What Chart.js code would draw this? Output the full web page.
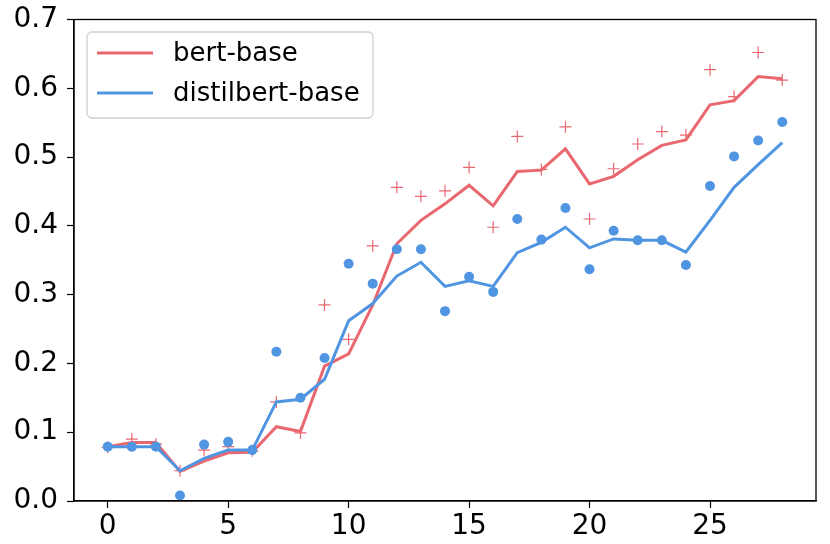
<!DOCTYPE html>
<html>
<head>
<meta charset="utf-8">
<script src="https://cdn.jsdelivr.net/npm/chart.js@4"></script>
<style>
  html, body { margin: 0; padding: 0; background: #fff; }
  #wrap { width: 830px; height: 544px; }
</style>
</head>
<body>
<div id="wrap"><canvas id="myChart"></canvas></div>
<script>
// Data
const steps = [0,1,2,3,4,5,6,7,8,9,10,11,12,13,14,15,16,17,18,19,20,21,22,23,24,25,26,27,28];
const bertPoints = [0.078,0.090,0.083,0.044,0.074,0.079,0.073,0.144,0.099,0.285,0.235,0.371,0.456,0.443,0.451,0.485,0.398,0.530,0.482,0.544,0.410,0.483,0.519,0.537,0.532,0.627,0.588,0.652,0.612];
const bertSmooth = [0.079,0.085,0.085,0.043,0.058,0.070,0.071,0.108,0.101,0.196,0.214,0.285,0.374,0.408,0.432,0.459,0.429,0.479,0.481,0.512,0.461,0.472,0.496,0.517,0.525,0.576,0.582,0.617,0.614];
const distilPoints = [0.079,0.079,0.079,0.008,0.082,0.086,0.074,0.217,0.150,0.208,0.345,0.316,0.366,0.366,0.276,0.326,0.304,0.410,0.380,0.426,0.337,0.393,0.379,0.379,0.343,0.458,0.501,0.524,0.551];
const distilSmooth = [0.079,0.079,0.079,0.044,0.062,0.074,0.074,0.144,0.148,0.177,0.262,0.287,0.327,0.347,0.312,0.320,0.312,0.361,0.376,0.398,0.368,0.381,0.379,0.379,0.362,0.408,0.456,0.489,0.521];
const xTicks = [0, 5, 10, 15, 20, 25];
const seriesNames = ['bert-base', 'distilbert-base'];

const RED = '#e9686f';
const BLUE = '#5095e1';

const xy = (ys) => steps.map((x, i) => ({ x: x, y: ys[i] }));

// legend box + frame drawn by hand
const framePlugin = {
  id: 'frame',
  afterDraw(chart) {
    const { ctx, chartArea: a } = chart;
    ctx.save();
    ctx.strokeStyle = '#000';
    ctx.lineWidth = 1.3;
    ctx.strokeRect(a.left, a.top, a.right - a.left, a.bottom - a.top);

    // legend
    const bx = 87, by = 32, bw = 286, bh = 86, r = 5;
    ctx.beginPath();
    ctx.roundRect(bx, by, bw, bh, r);
    ctx.fillStyle = 'rgba(255,255,255,0.8)';
    ctx.fill();
    ctx.strokeStyle = '#d0d0d0';
    ctx.lineWidth = 1.3;
    ctx.stroke();
    const cols = [RED, BLUE];
    const rows = [53, 93];
    ctx.font = '26px "DejaVu Sans"';
    ctx.textBaseline = 'middle';
    seriesNames.forEach((name, i) => {
      ctx.beginPath();
      ctx.strokeStyle = cols[i];
      ctx.lineWidth = 3;
      ctx.moveTo(97, rows[i]);
      ctx.lineTo(153, rows[i]);
      ctx.stroke();
      ctx.fillStyle = '#000';
      ctx.fillText(name, 173, rows[i] + 1);
    });
    ctx.restore();
  }
};

const config = {
  type: 'scatter',
  data: {
    datasets: [
      {
        label: seriesNames[1] + ' points',
        data: xy(distilPoints),
        backgroundColor: BLUE,
        borderColor: BLUE,
        pointRadius: 5,
        borderWidth: 0,
        order: 1
      },
      {
        label: seriesNames[1],
        data: xy(distilSmooth),
        showLine: true,
        borderColor: BLUE,
        borderWidth: 3,
        pointRadius: 0,
        order: 2
      },
      {
        label: seriesNames[0] + ' points',
        data: xy(bertPoints),
        pointStyle: 'cross',
        borderColor: RED,
        pointRadius: 6,
        pointBorderWidth: 1.2,
        order: 3
      },
      {
        label: seriesNames[0],
        data: xy(bertSmooth),
        showLine: true,
        borderColor: RED,
        borderWidth: 3,
        pointRadius: 0,
        order: 4
      }
    ]
  },
  options: {
    responsive: true,
    maintainAspectRatio: false,
    animation: false,
    layout: { padding: { top: 19.5, right: 14, left: 0, bottom: 0 } },
    plugins: {
      legend: { display: false },
      tooltip: { enabled: false }
    },
    scales: {
      x: {
        type: 'linear',
        min: -1.4,
        max: 29.4,
        afterBuildTicks: (axis) => { axis.ticks = xTicks.map(v => ({ value: v })); },
        afterFit: (axis) => { axis.height = 43; axis.paddingLeft = 0; axis.paddingRight = 0; },
        grid: { display: true, drawOnChartArea: false, tickLength: 7, tickColor: '#000', tickWidth: 1.2 },
        border: { display: true, color: '#000', width: 1.3 },
        ticks: {
          color: '#000',
          font: { family: 'DejaVu Sans', size: 28 },
          padding: 2,
          maxRotation: 0
        }
      },
      y: {
        min: 0,
        max: 0.7,
        afterFit: (axis) => { axis.width = 74; axis.paddingTop = 0; axis.paddingBottom = 0; },
        grid: { display: true, drawOnChartArea: false, tickLength: 7, tickColor: '#000', tickWidth: 1.2 },
        border: { display: true, color: '#000', width: 1.3 },
        ticks: {
          stepSize: 0.1,
          color: '#000',
          font: { family: 'DejaVu Sans', size: 28 },
          padding: 9,
          callback: (v) => v.toFixed(1)
        }
      }
    }
  },
  plugins: [framePlugin]
};

const myChart = new Chart(document.getElementById('myChart'), config);
</script>
</body>
</html>
